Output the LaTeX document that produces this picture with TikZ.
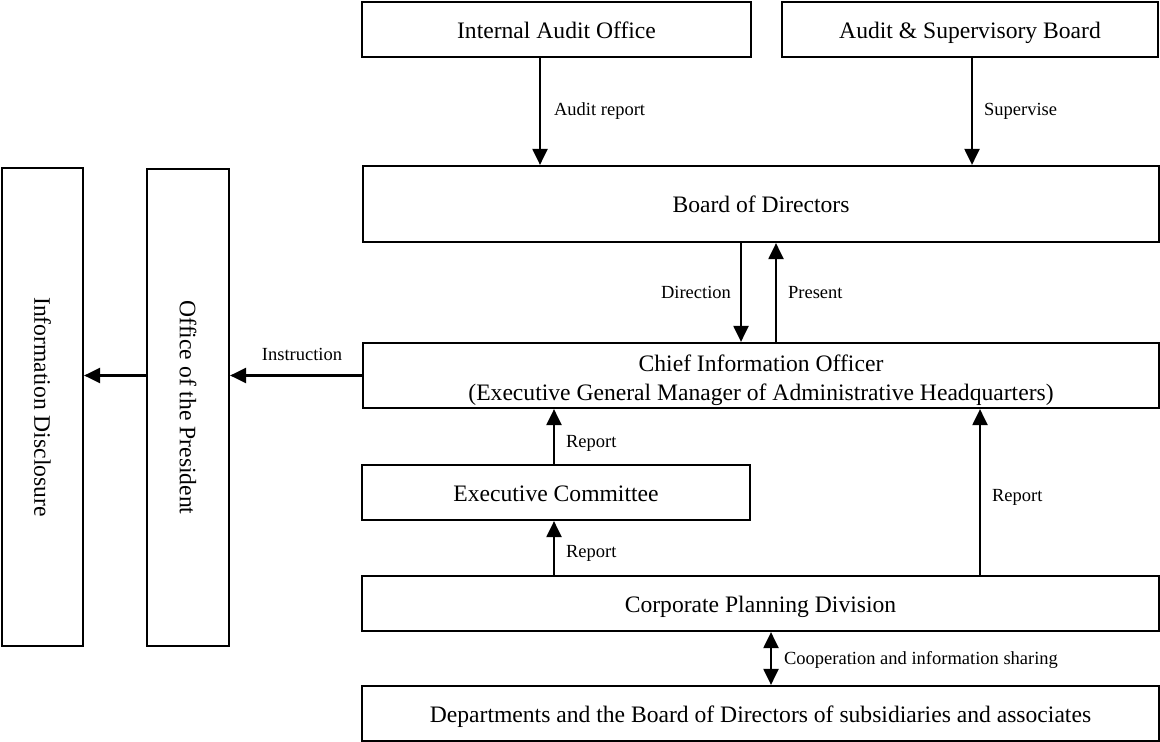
\documentclass[tikz,border=0pt]{standalone}
\usepackage{fontspec}
\setmainfont{Liberation Serif}
\usetikzlibrary{arrows.meta}
\begin{document}
\begin{tikzpicture}
% 0.5pt = 1px of the 1160x742 sheet, y runs down
[x=0.5pt,y=-0.5pt,line width=1.1pt,
 box/.style={draw,rectangle,inner sep=0pt,align=center,font=\fontsize{11.8}{14.5}\selectfont},
 oneline/.style={text height=9pt,text depth=0pt},
 lbl/.style={font=\fontsize{9.25}{11}\selectfont,inner sep=0pt},
 arr/.style={-{Triangle[length=8pt,width=7.5pt]}},
 twoway/.style={{Triangle[length=8pt,width=7.5pt]}-{Triangle[length=8pt,width=7.5pt]}}]
\useasboundingbox (0,0) rectangle (1160,742);
% top row
\node[box,oneline,minimum width=194.5pt,minimum height=27.5pt] (iao) at (556.5,29.5) {Internal Audit Office};
\node[box,oneline,minimum width=188pt,minimum height=27.5pt] (asb) at (970,29.5) {Audit \& Supervisory Board};
% main column, 398pt = 796px wide
\node[box,oneline,minimum width=398pt,minimum height=38pt] (bod) at (761,204) {Board of Directors};
% 13.3pt strut = 5pt more room over the first line
\node[box,minimum width=398pt,minimum height=32.5pt] (cio) at (761,375.5) {\rule{0pt}{13.3pt}Chief Information Officer\\(Executive General Manager of Administrative Headquarters)};
\node[box,oneline,minimum width=194pt,minimum height=27.5pt] (ec) at (556,492.5) {Executive Committee};
\node[box,oneline,minimum width=398.5pt,minimum height=27.5pt] (cpd) at (760.5,603.5) {Corporate Planning Division};
\node[box,oneline,minimum width=398.5pt,minimum height=27.5pt] (dep) at (760.5,713.5) {Departments and the Board of Directors of subsidiaries and associates};
% left side, text read downwards
\node[box,minimum width=41pt,minimum height=238.5pt] (op) at (188,407.5) {\rotatebox{-90}{Office of the President}};
\node[box,minimum width=40.5pt,minimum height=239pt] (id) at (42.5,407) {\rotatebox{-90}{Information Disclosure}};
% downward arrows
\draw[arr] (iao.south -| 540,0) -- node[lbl,right=6.5pt]{Audit report} (bod.north -| 540,0);
\draw[arr] (asb.south -| 972,0) -- node[lbl,right=5.5pt]{Supervise} (bod.north -| 972,0);
\draw[arr] (bod.south -| 741,0) -- node[lbl,left=4.5pt]{Direction} (cio.north -| 741,0);
% upward arrows
\foreach \from/\to/\xx/\p/\txt in {cio/bod/776/0.5/Present,ec/cio/554/0.38/Report,cpd/ec/554/0.4/Report,cpd/cio/980/0.47/Report}{
	\draw[arr] (\from.north -| \xx,0) -- node[lbl,right=5.5pt,pos=\p]{\txt} (\to.south -| \xx,0);
	}
\draw[twoway] (cpd.south -| 771,0) -- node[lbl,right=6pt,pos=0.53]{Cooperation and information sharing} (dep.north -| 771,0);
% to the left
\draw[arr] (cio.west) -- node[lbl,above=7pt,xshift=3pt]{Instruction} (cio.west -| op.east);
\draw[arr] (op.west |- cio.west) -- (id.east |- cio.west);
\end{tikzpicture}
\end{document}
